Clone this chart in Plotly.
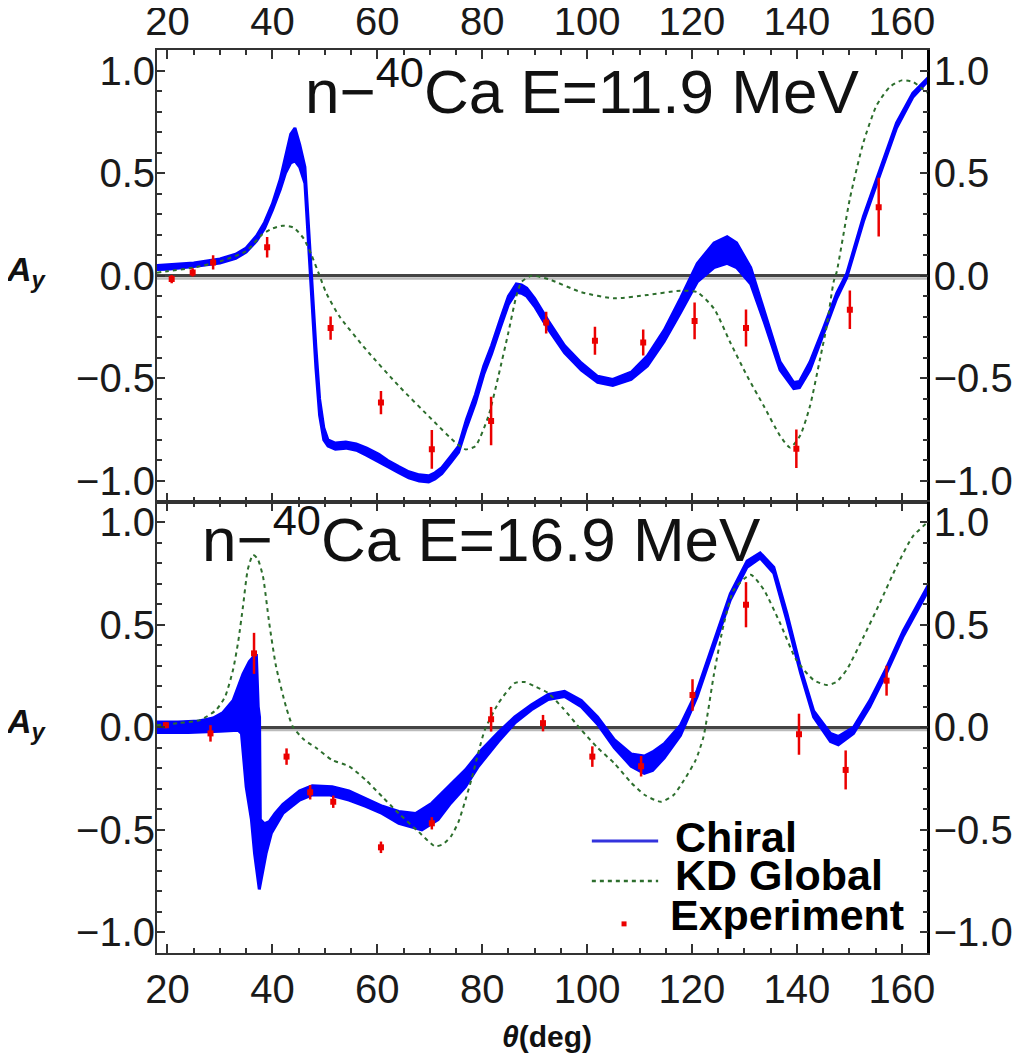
import plotly.graph_objects as go

# ---------------- data: top panel, E = 11.9 MeV ----------------
theta_ch1 = [18.0, 20, 25, 30, 33, 35, 37, 38.5, 40, 41.5, 42.5, 43.5, 44.3, 45.2, 46.2, 47.0, 47.6,
             48.3, 49.0, 49.8, 50.6, 52, 54, 56, 58, 60.3, 62, 64.1, 66, 68, 69.8, 71, 72.3, 74, 75.5,
             77, 78.7, 80.3, 81.8, 83.5, 85, 86.5, 87.5, 88.5, 90, 92.6, 95.7, 98.9, 102, 104.9,
             108.4, 111.5, 114.7, 117.8, 121, 124.2, 126.7, 128.5, 131.2, 133.7, 136.8, 139.4,
             140.5, 142.5, 145, 147.6, 149.5, 152.7, 155.8, 159, 162.1, 165]
ch1_lo = [0.030, 0.032, 0.045, 0.062, 0.085, 0.115, 0.17, 0.23, 0.32, 0.42, 0.50, 0.55, 0.56, 0.53,
          0.45, 0.10, -0.12, -0.45, -0.68, -0.80, -0.83, -0.845, -0.84, -0.85, -0.875, -0.905,
          -0.93, -0.96, -0.985, -1.0, -1.005, -0.99, -0.965, -0.91, -0.86, -0.74, -0.62, -0.48,
          -0.38, -0.25, -0.14, -0.08, -0.085, -0.10, -0.15, -0.26, -0.375, -0.46, -0.52, -0.535,
          -0.505, -0.44, -0.32, -0.18, -0.03, 0.04, 0.06, 0.04, -0.04, -0.22, -0.46, -0.55,
          -0.545, -0.46, -0.29, -0.11, -0.01, 0.265, 0.49, 0.72, 0.87, 0.95]
ch1_hi = [0.050, 0.052, 0.062, 0.082, 0.105, 0.135, 0.195, 0.26, 0.35, 0.47, 0.58, 0.69, 0.72, 0.64,
          0.53, 0.18, -0.05, -0.35, -0.60, -0.74, -0.80, -0.815, -0.81, -0.82, -0.84, -0.87,
          -0.90, -0.93, -0.955, -0.97, -0.975, -0.96, -0.935, -0.88, -0.83, -0.70, -0.58, -0.44,
          -0.34, -0.21, -0.10, -0.04, -0.045, -0.06, -0.11, -0.22, -0.34, -0.425, -0.49, -0.505,
          -0.47, -0.39, -0.265, -0.11, 0.06, 0.16, 0.19, 0.16, 0.04, -0.17, -0.42, -0.52,
          -0.515, -0.42, -0.26, -0.085, 0.01, 0.29, 0.515, 0.745, 0.89, 0.965]

theta_kd1 = [18, 20, 25, 30, 35, 38, 40, 42, 44, 46, 47.5, 49, 50.2, 52.7, 57.8, 64.1, 70.4, 74.9,
             76.8, 78.7, 81.2, 83.1, 85, 86.5, 87.5, 89.4, 92.6, 98.9, 105.2, 111.5, 117.8, 121,
             124.2, 127.3, 130.5, 133.7, 136.8, 138.7, 140.6, 142.5, 144.4, 145.7, 147, 147.6,
             150.1, 152.7, 155.2, 157.7, 160, 162.1, 164, 165]
kd1 = [0.015, 0.022, 0.04, 0.07, 0.12, 0.20, 0.23, 0.244, 0.235, 0.18, 0.098, 0.0, -0.08, -0.195,
       -0.358, -0.537, -0.70, -0.813, -0.846, -0.83, -0.683, -0.488, -0.276, -0.10, -0.03, 0.0,
       -0.016, -0.08, -0.11, -0.094, -0.073, -0.08, -0.16, -0.325, -0.488, -0.635, -0.78, -0.837,
       -0.78, -0.635, -0.407, -0.244, -0.03, 0.02, 0.375, 0.651, 0.83, 0.92, 0.952, 0.945, 0.91,
       0.89]

theta_exp1 = [20.8, 24.8, 28.7, 39.0, 51.1, 60.7, 70.4, 81.7, 92.2, 101.5, 110.7, 120.5, 130.3,
              139.9, 150.1, 155.6]
exp1 = [-0.016, 0.016, 0.065, 0.139, -0.255, -0.618, -0.846, -0.708, -0.228, -0.317, -0.325,
        -0.22, -0.255, -0.843, -0.166, 0.334]
err1 = [0.02, 0.02, 0.035, 0.05, 0.057, 0.057, 0.094, 0.118, 0.053, 0.068, 0.063, 0.09, 0.09,
        0.094, 0.094, 0.143]

# ---------------- data: bottom panel, E = 16.9 MeV ----------------
theta_ch2_hi = [18, 22, 26, 28.7, 30.5, 32.5, 34.4, 35.6, 36.6, 36.95, 37.3, 37.55, 37.7, 38.5,
                39.4, 40.5, 42, 45.2, 47.6, 51.4, 54.6, 57.8, 61, 64.1, 67.3, 70.4, 73.6, 76.8,
                79.9, 83.1, 86.2, 89.4, 92.6, 95.7, 98.9, 102, 105.2, 108.4, 110.9, 112.5, 114.7,
                117.8, 121, 124.2, 127.3, 130.5, 133, 135.6, 138.1, 140.7, 143.2, 146.4, 147.9,
                150.8, 153.9, 157.1, 160.3, 165]
ch2_hi = [0.025, 0.025, 0.03, 0.045, 0.07, 0.13, 0.26, 0.32, 0.35, 0.35, 0.10, 0.05, -0.45,
          -0.47, -0.46, -0.42, -0.375, -0.31, -0.285, -0.29, -0.31, -0.346, -0.385, -0.41, -0.42,
          -0.37, -0.29, -0.208, -0.11, -0.025, 0.05, 0.11, 0.16, 0.175, 0.13, 0.05, -0.06, -0.13,
          -0.14, -0.12, -0.08, 0.01, 0.18, 0.42, 0.65, 0.81, 0.85, 0.78, 0.555, 0.29, 0.08, -0.03,
          -0.045, 0.0, 0.13, 0.29, 0.47, 0.69]
theta_ch2_lo = [18, 24, 30, 33.5, 34.1, 35, 36, 36.6, 37.5, 38.8, 39.8, 42, 45.2, 47.6, 51, 54.6,
                57.8, 60.9, 64.1, 67.3, 68.5, 71.6, 74, 76.8, 79.3, 83.1, 86.2, 89.4, 92.6, 95.7,
                98.9, 102, 105.2, 108.4, 110.9, 112.5, 114.7, 117.8, 121, 124.2, 127.3, 130.5,
                133, 135.6, 138.1, 140.7, 143.2, 146.4, 147.9, 150.8, 153.9, 157.1, 160.3, 165]
ch2_lo = [-0.025, -0.025, -0.02, -0.015, -0.03, -0.29, -0.45, -0.615, -0.79, -0.615, -0.517,
          -0.42, -0.355, -0.33, -0.33, -0.355, -0.385, -0.42, -0.468, -0.49, -0.5, -0.45, -0.37,
          -0.29, -0.19, -0.07, 0.02, 0.085, 0.135, 0.15, 0.10, 0.015, -0.10, -0.19, -0.225,
          -0.21, -0.15, -0.04, 0.15, 0.39, 0.62, 0.78, 0.825, 0.75, 0.52, 0.265, 0.05, -0.07,
          -0.085, -0.03, 0.10, 0.265, 0.445, 0.665]

theta_kd2 = [18, 22, 26.2, 29.3, 31, 32.5, 33.5, 34.4, 35.3, 36.3, 37.2, 38.2, 39.4, 40.7, 42.6,
             43.9, 46, 48.3, 51.4, 54.6, 57.8, 61, 64.1, 67.9, 71, 72.5, 74.1, 75.5, 76.8, 78,
             80.5, 83.1, 86.2, 88.1, 90, 92.6, 95.5, 98.9, 102, 105.2, 108.4, 111, 114.1, 116.5,
             118.5, 120.7, 122.2, 124.2, 126.1, 128, 131.2, 133.7, 136.8, 139.9, 143.2, 145.7,
             147.5, 149.5, 152.7, 155.8, 159, 162.1, 165]
kd2 = [0.01, 0.02, 0.035, 0.085, 0.15, 0.28, 0.42, 0.59, 0.767, 0.84, 0.82, 0.735, 0.507, 0.296,
       0.10, 0.003, -0.06, -0.10, -0.16, -0.19, -0.257, -0.34, -0.42, -0.51, -0.58, -0.57,
       -0.53, -0.46, -0.355, -0.25, -0.013, 0.117, 0.215, 0.22, 0.20, 0.166, 0.09, -0.013, -0.10,
       -0.176, -0.27, -0.33, -0.363, -0.33, -0.257, -0.16, -0.046, 0.26, 0.507, 0.67, 0.743,
       0.67, 0.507, 0.328, 0.23, 0.206, 0.22, 0.28, 0.44, 0.605, 0.783, 0.93, 1.0]

theta_exp2 = [19.7, 28.2, 36.5, 42.7, 47.2, 51.6, 60.7, 70.4, 81.7, 91.6, 101.0, 110.3, 120.1,
              130.3, 140.4, 149.3, 157.1]
exp2 = [0.01, -0.03, 0.36, -0.143, -0.317, -0.363, -0.585, -0.468, 0.039, 0.02, -0.143, -0.19,
        0.157, 0.597, -0.034, -0.208, 0.227]
err2 = [0.015, 0.04, 0.10, 0.04, 0.035, 0.03, 0.028, 0.03, 0.06, 0.04, 0.05, 0.05, 0.077, 0.11,
        0.10, 0.095, 0.073]

x_ticks = [20, 40, 60, 80, 100, 120, 140, 160]
y_ticks = [-1.0, -0.5, 0.0, 0.5, 1.0]
titles = ["n\u2212<sup>40</sup>Ca E=11.9 MeV", "n\u2212<sup>40</sup>Ca E=16.9 MeV"]
legend_names = ["Chiral", "KD Global", "Experiment"]

# ---------------- styles ----------------
BLUE = "#0000FF"
GREEN = "rgb(45,110,45)"
RED = "rgb(235,0,0)"
FONT = "Liberation Sans, Arial, sans-serif"
AXC = "#333333"
XR = [18, 165]
YR = [-1.1, 1.1]

fig = go.Figure()


def band(th_lo, lo, th_hi, hi, xa, ya, name):
    xs = list(th_lo) + list(th_hi)[::-1]
    ys = list(lo) + list(hi)[::-1]
    fig.add_trace(go.Scatter(x=xs, y=ys, mode="lines", fill="toself", fillcolor=BLUE,
                             line=dict(color=BLUE, width=3), xaxis=xa, yaxis=ya,
                             name=name, showlegend=False, hoverinfo="skip"))


def panel(th_lo, lo, th_hi, hi, th_kd, kd, th_exp, ex, er, xa, ya):
    band(th_lo, lo, th_hi, hi, xa, ya, legend_names[0])
    fig.add_trace(go.Scatter(x=th_kd, y=kd, mode="lines",
                             line=dict(color=GREEN, width=2, dash="4px,4px", shape="spline", smoothing=0.6),
                             xaxis=xa, yaxis=ya, name=legend_names[1], showlegend=False))
    fig.add_trace(go.Scatter(x=th_exp, y=ex, mode="markers",
                             marker=dict(color=RED, symbol="square", size=6),
                             error_y=dict(type="data", array=er, color=RED, thickness=2.5, width=0),
                             xaxis=xa, yaxis=ya, name=legend_names[2], showlegend=False))


panel(theta_ch1, ch1_lo, theta_ch1, ch1_hi, theta_kd1, kd1, theta_exp1, exp1, err1, "x", "y")
panel(theta_ch2_lo, ch2_lo, theta_ch2_hi, ch2_hi, theta_kd2, kd2, theta_exp2, exp2, err2, "x2", "y2")

# invisible traces to carry the right-hand axes
for ya, xa in (("y3", "x"), ("y4", "x2")):
    fig.add_trace(go.Scatter(x=[None], y=[None], xaxis=xa, yaxis=ya, showlegend=False, hoverinfo="skip"))

tickfont = dict(family=FONT, size=40, color="#1a1a1a")


def xaxis(side, anchor, standoff):
    return dict(domain=[0, 1], anchor=anchor, side=side, range=XR, tickvals=x_ticks,
                showticklabels=True, tickfont=tickfont, ticks="inside", ticklen=9, tickwidth=2,
                tickcolor=AXC, showline=True, linecolor=AXC, linewidth=2, mirror="ticks",
                showgrid=False, zeroline=False, automargin=False, ticklabelstandoff=standoff,
                minor=dict(dtick=5, ticks="inside", ticklen=5, tickwidth=1.5, tickcolor=AXC))


def yaxis(domain, anchor):
    return dict(domain=domain, anchor=anchor, range=YR, tickvals=y_ticks, tickformat=".1f",
                tickfont=tickfont, ticks="inside", ticklen=8, tickwidth=2, tickcolor=AXC,
                showline=True, linecolor=AXC, linewidth=2, mirror="ticks", showgrid=False,
                zeroline=True, zerolinecolor="#444444", zerolinewidth=2.5, automargin=False,
                ticklabelstandoff=-8,
                minor=dict(dtick=0.1, ticks="inside", ticklen=5, tickwidth=1.5, tickcolor=AXC))


def yaxis_right(over):
    return dict(overlaying=over, side="right", anchor="free", position=1.0, range=YR,
                tickvals=y_ticks, tickformat=".1f", tickfont=tickfont, ticks="",
                showline=True, linecolor="#000000", linewidth=2.5, showgrid=False,
                zeroline=False, automargin=False, ticklabelstandoff=-4)


# the page body adds an 8 px margin, so the figure is 16 px smaller than the window
fig.update_layout(
    width=1016, height=1045,
    margin=dict(l=149, r=96, t=42, b=100, autoexpand=False),
    paper_bgcolor="white", plot_bgcolor="white",
    showlegend=False,
    xaxis=xaxis("top", "y", -3),
    yaxis=yaxis([0.5, 1.0], "x"),
    xaxis2=xaxis("bottom", "y2", 0),
    yaxis2=yaxis([0.0, 0.5], "x2"),
    yaxis3=yaxis_right("y"),
    yaxis4=yaxis_right("y2"),
)
fig.update_layout(xaxis2=dict(matches="x"))

# light grey shadow under the zero lines (Mathematica-style rendering)
for yref in ("y", "y2"):
    fig.add_shape(type="rect", xref="paper", yref=yref, x0=0, x1=1, ysizemode="pixel", yanchor=0,
                  y0=-4, y1=-1.5, fillcolor="#bbbbbb", line_width=0, layer="below")

# panel titles
title_font = dict(family=FONT, size=62, color="#111111")
fig.add_annotation(text=titles[0], xref="paper", yref="paper", x=0.551, y=0.959,
                   xanchor="center", yanchor="middle", showarrow=False, font=title_font)
fig.add_annotation(text=titles[1], xref="paper", yref="paper", x=0.4215, y=0.463,
                   xanchor="center", yanchor="middle", showarrow=False, font=title_font)

# A_y labels
for yref in ("y", "y2"):
    fig.add_annotation(text="<b><i>A</i></b><sub><b><i>y</i></b></sub>", xref="paper", yref=yref,
                       x=-0.198, y=0, xanchor="left", yanchor="middle", yshift=4, showarrow=False,
                       font=dict(family=FONT, size=34, color="#111111"))

# x title
fig.add_annotation(text="<b><i>θ</i>(deg)</b>", xref="paper", yref="paper", x=0.506, y=-0.092,
                   xanchor="center", yanchor="middle", showarrow=False,
                   font=dict(family=FONT, size=30, color="#111111"))

# legend (drawn manually)
lg_font = dict(family=FONT, size=43, color="#000000")
fig.add_shape(type="line", xref="paper", yref="paper", x0=0.564, x1=0.650, y0=0.124, y1=0.124,
              line=dict(color="#3333dd", width=3))
fig.add_shape(type="line", xref="paper", yref="paper", x0=0.564, x1=0.650, y0=0.0797, y1=0.0797,
              line=dict(color=GREEN, width=2.5, dash="4px,4px"))
fig.add_shape(type="rect", xref="paper", yref="paper", x0=0.6025, x1=0.6090, y0=0.0295, y1=0.035,
              fillcolor=RED, line_width=0)
fig.add_annotation(text="<b>%s</b>" % legend_names[0], xref="paper", yref="paper", x=0.669, y=0.1285,
                   xanchor="left", yanchor="middle", showarrow=False, font=lg_font)
fig.add_annotation(text="<b>%s</b>" % legend_names[1], xref="paper", yref="paper", x=0.669, y=0.0864,
                   xanchor="left", yanchor="middle", showarrow=False, font=lg_font)
fig.add_annotation(text="<b>%s</b>" % legend_names[2], xref="paper", yref="paper", x=0.663, y=0.042,
                   xanchor="left", yanchor="middle", showarrow=False, font=lg_font)

fig.write_html("out.html")
